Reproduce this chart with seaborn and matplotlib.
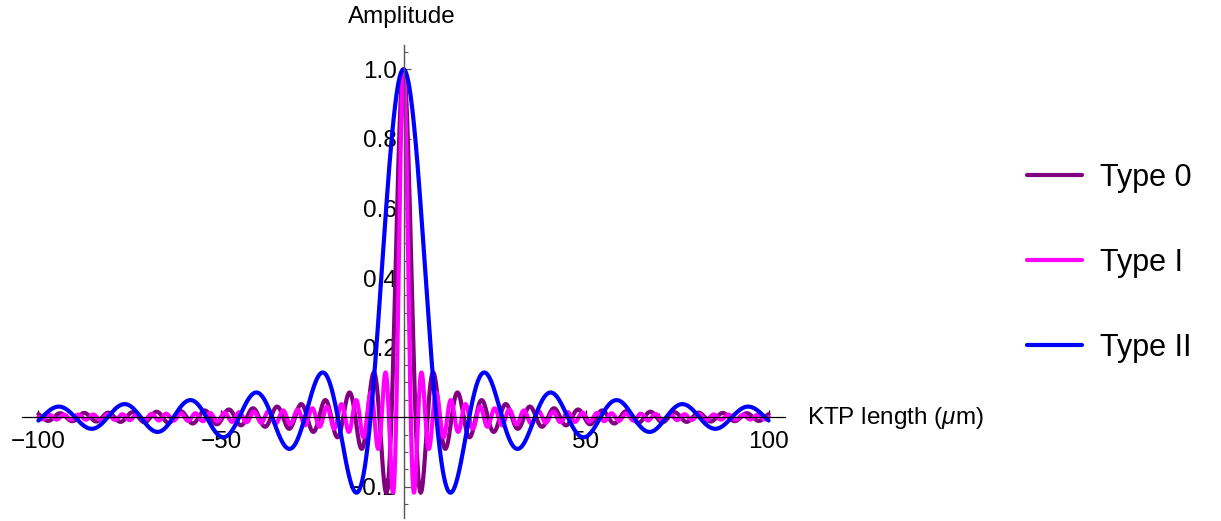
import numpy as np
import pandas as pd
import matplotlib
matplotlib.use("Agg")
import matplotlib.pyplot as plt
import seaborn as sns

# ---- data ----
types = ["Type 0", "Type I", "Type II"]
colors = ["#800080", "#FF00FF", "#0000FF"]
# spacing of zero crossings (micrometres) of each sinc-shaped curve
zero_spacing_um = [3.3, 2.0, 9.0]
x_range_um = [-100, 100]
x_major_ticks = [-100, -50, 50, 100]
x_minor_ticks = [-90, -80, -70, -60, -40, -30, -20, -10, 10, 20, 30, 40, 60, 70, 80, 90]
y_major_ticks = [-0.2, 0.2, 0.4, 0.6, 0.8, 1.0]
y_tick_labels = ["\u22120.2", "0.2", "0.4", "0.6", "0.8", "1.0"]

x_um = np.linspace(x_range_um[0], x_range_um[1], 4001)
frames = []
for name, a in zip(types, zero_spacing_um):
    frames.append(pd.DataFrame({"x": x_um, "amp": np.sinc(x_um / a), "type": name}))
df = pd.concat(frames, ignore_index=True)

sns.set_theme(style="white")
plt.rcParams["font.family"] = ["Liberation Sans", "DejaVu Sans"]
plt.rcParams["mathtext.fontset"] = "custom"
plt.rcParams["mathtext.it"] = "Liberation Sans:italic"
plt.rcParams["mathtext.rm"] = "Liberation Sans"
plt.rcParams["text.color"] = "black"
plt.rcParams["xtick.color"] = "black"
plt.rcParams["ytick.color"] = "black"

fig = plt.figure(figsize=(12.21, 5.21), dpi=100)
ax = fig.add_axes([22 / 1221, 3 / 521, 763 / 1221, 473 / 521])

sns.lineplot(data=df, x="x", y="amp", hue="type", hue_order=types,
             palette=colors, linewidth=3, ax=ax, legend=True, estimator=None,
             sort=False)

ax.set_xlim(-104.5, 104.5)
ax.set_ylim(-0.29, 1.07)

for s in ["top", "right"]:
    ax.spines[s].set_visible(False)
ax.spines["left"].set_position(("data", 0))
ax.spines["bottom"].set_position(("data", 0))
ax.spines["left"].set_color("#555555")
ax.spines["bottom"].set_color("black")
ax.spines["left"].set_linewidth(1.0)
ax.spines["bottom"].set_linewidth(0.9)

ax.set_xticks(x_major_ticks)
ax.set_xticklabels(["\u2212100", "\u221250", "50", "100"])
ax.set_xticks(x_minor_ticks, minor=True)
ax.set_yticks(y_major_ticks)
ax.set_yticklabels(y_tick_labels)
ax.set_yticks(np.arange(-0.25, 1.051, 0.05), minor=True)

ax.tick_params(axis="both", which="major", direction="in", length=5, width=0.9,
               labelsize=17.5, labelcolor="black", bottom=True, left=True)
ax.tick_params(axis="both", which="minor", direction="in", length=3, width=0.8,
               bottom=True, left=True)
ax.tick_params(axis="x", which="both", pad=10, color="black")
ax.tick_params(axis="y", which="both", pad=5, color="#555555")

ax.set_xlabel("")
ax.set_ylabel("")
fig.text(402 / 1221, 1 - 17 / 521, "Amplitude", ha="center", va="center",
         fontsize=17.5, color="black")
fig.text(807 / 1221, 1 - 418 / 521, r"KTP length ($\mathit{\mu}$m)", ha="left",
         va="center", fontsize=17.5, color="black")

handles, labels = ax.get_legend_handles_labels()
ax.get_legend().remove()
leg = fig.legend(handles, labels, loc="center left",
                 bbox_to_anchor=(1027 / 1221, 1 - 263 / 521), frameon=False,
                 fontsize=22, handlelength=1.8, handletextpad=0.6, labelspacing=1.8,
                 borderpad=0, borderaxespad=0)
for t in leg.get_texts():
    t.set_color("black")

fig.savefig("out.png", dpi=100)
